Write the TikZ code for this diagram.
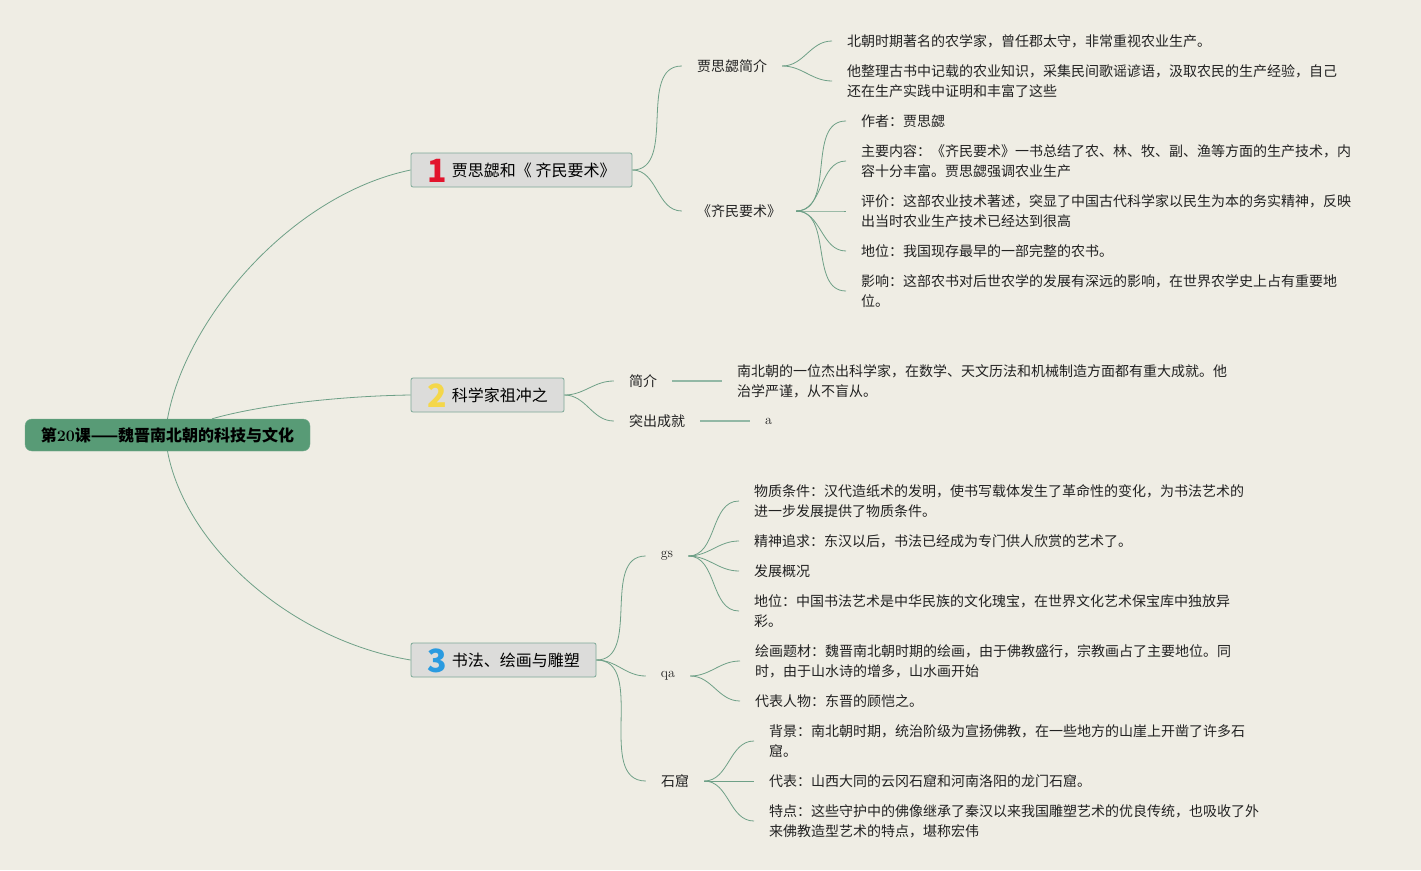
\documentclass[tikz,border=0pt]{standalone}
\usepackage{fontspec}
\newfontfamily\cjk{Noto Sans CJK SC}
\definecolor{paper}{HTML}{EFEDE4}
\definecolor{rootgreen}{HTML}{589B76}
\definecolor{boxgray}{HTML}{DCDCDA}
\definecolor{boxline}{HTML}{7DA898}
\definecolor{linkgreen}{HTML}{6EA087}
\definecolor{leaftext}{HTML}{222222}
\definecolor{numred}{HTML}{E2142C}
\definecolor{numyellow}{HTML}{F4D74A}
\definecolor{numblue}{HTML}{2A9BE0}
\newcommand{\topicnum}[2]{\smash{\raisebox{-6pt}{\textcolor{#1}{\fontsize{32}{32}\selectfont\bfseries #2}}}\hspace{5pt}}
\begin{document}
\begin{tikzpicture}[x=1pt, y=-1pt,
        rootbox/.style={rectangle, rounded corners=7pt,
            minimum width=285pt, minimum height=32pt,
            fill=rootgreen, draw=rootgreen!85!white,
            font=\cjk\bfseries\fontsize{16}{18}\selectfont},
        mainbox/.style={rectangle, rounded corners=2pt,
            minimum height=34pt, inner sep=0pt,
            fill=boxgray, draw=boxline, line width=0.8pt,
            font=\cjk\fontsize{16}{18}\selectfont},
        subtopic/.style={inner xsep=15pt, inner ysep=2pt,
            font=\cjk\fontsize{14}{20}\selectfont, text=leaftext},
        latintopic/.style={inner xsep=15pt, inner ysep=2pt,
            font=\fontsize{14}{20}\selectfont, text=leaftext},
        leaf/.style={anchor=west, align=left, inner xsep=15pt, inner ysep=2pt,
            font=\cjk\fontsize{14}{20}\selectfont, text=leaftext},
        link/.style={draw=linkgreen, line width=0.8pt},
        flatlink/.style={draw=linkgreen!75!white, line width=1.4pt},
        fan/.style={out=0, in=180}
      ]
      \useasboundingbox[fill=paper] (0,0) rectangle (1421,870);
      \node[rootbox] (root) at (167.5,435) {第{\rmfamily\bfseries 20}课——魏晋南北朝的科技与文化};
      \node[mainbox, minimum width=221pt] (t1) at (521.5,170)
      {\topicnum{numred}{1}贾思勰和《 齐民要术》};
      \node[mainbox, minimum width=153pt] (t2) at (487.5,395)
      {\topicnum{numyellow}{2}科学家祖冲之};
      \node[mainbox, minimum width=185pt] (t3) at (503.5,660)
      {\topicnum{numblue}{3}书法、绘画与雕塑};
      \draw[link] (root.north) .. controls (185,320) and (290,195) .. (t1.west);
      \draw[link] (root.20) .. controls (260,405) and (340,396) .. (t2.west);
      \draw[link] (root.south) .. controls (185,545) and (290,640) .. (t3.west);
      % first topic
      \node[subtopic] (jsx) at (732,66) {贾思勰简介};
      \node[subtopic] (qmys) at (739,211) {《齐民要术》};
      \node[leaf] (a1) at (832,41) {北朝时期著名的农学家，曾任郡太守，非常重视农业生产。};
      \node[leaf] (a2) at (832,81) {他整理古书中记载的农业知识，采集民间歌谣谚语，汲取农民的生产经验，自己\\还在生产实践中证明和丰富了这些};
      \node[leaf] (b1) at (846,121) {作者：贾思勰};
      \node[leaf] (b2) at (846,161) {主要内容：《齐民要术》一书总结了农、林、牧、副、渔等方面的生产技术，内\\容十分丰富。贾思勰强调农业生产};
      \node[leaf] (b3) at (846,211) {评价：这部农业技术著述，突显了中国古代科学家以民生为本的务实精神，反映\\出当时农业生产技术已经达到很高};
      \node[leaf] (b4) at (846,251) {地位：我国现存最早的一部完整的农书。};
      \node[leaf] (b5) at (846,291) {影响：这部农书对后世农学的发展有深远的影响，在世界农学史上占有重要地\\位。};
      \draw[link] (t1.east) to[fan] (jsx.west);
      \draw[link] (t1.east) to[fan] (qmys.west);
      \foreach \n in {a1,a2}
        \draw[link] (jsx.east) to[fan] (\n.west);
      \foreach \n in {b1,b2,b3,b4,b5}
        \draw[link] (qmys.east) to[fan] (\n.west);
      % second topic
      \node[subtopic] (jj) at (643,381) {简介};
      \node[subtopic] (tccj) at (657,421) {突出成就};
      \node[leaf] (c1) at (722,381) {南北朝的一位杰出科学家，在数学、天文历法和机械制造方面都有重大成就。他\\治学严谨，从不盲从。};
      \node[leaf, font=\fontsize{14}{20}\selectfont] (c2) at (750,421) {a};
      \draw[link] (t2.east) to[fan] (jj.west);
      \draw[link] (t2.east) to[fan] (tccj.west);
      \draw[flatlink] (jj.east) -- (c1.west);
      \draw[flatlink] (tccj.east) -- (c2.west);
      % third topic
      \node[latintopic] (gs) at (667,556) {gs};
      \node[latintopic] (qa) at (668,676) {qa};
      \node[subtopic] (sk) at (675,781) {石窟};
      \node[leaf] (d1) at (739,501) {物质条件：汉代造纸术的发明，使书写载体发生了革命性的变化，为书法艺术的\\进一步发展提供了物质条件。};
      \node[leaf] (d2) at (739,541) {精神追求：东汉以后，书法已经成为专门供人欣赏的艺术了。};
      \node[leaf] (d3) at (739,571) {发展概况};
      \node[leaf] (d4) at (739,611) {地位：中国书法艺术是中华民族的文化瑰宝，在世界文化艺术保宝库中独放异\\彩。};
      \node[leaf] (e1) at (740,661) {绘画题材：魏晋南北朝时期的绘画，由于佛教盛行，宗教画占了主要地位。同\\时，由于山水诗的增多，山水画开始};
      \node[leaf] (e2) at (740,701) {代表人物：东晋的顾恺之。};
      \node[leaf] (f1) at (754,741) {背景：南北朝时期，统治阶级为宣扬佛教，在一些地方的山崖上开凿了许多石\\窟。};
      \node[leaf] (f2) at (754,781) {代表：山西大同的云冈石窟和河南洛阳的龙门石窟。};
      \node[leaf] (f3) at (754,821) {特点：这些守护中的佛像继承了秦汉以来我国雕塑艺术的优良传统，也吸收了外\\来佛教造型艺术的特点，堪称宏伟};
      \foreach \n in {gs,qa,sk}
        \draw[link] (t3.east) to[fan] (\n.west);
      \foreach \n in {d1,d2,d3,d4}
        \draw[link] (gs.east) to[fan] (\n.west);
      \foreach \n in {e1,e2}
        \draw[link] (qa.east) to[fan] (\n.west);
      \foreach \n in {f1,f2,f3}
        \draw[link] (sk.east) to[fan] (\n.west);
    \end{tikzpicture}
\end{document}
